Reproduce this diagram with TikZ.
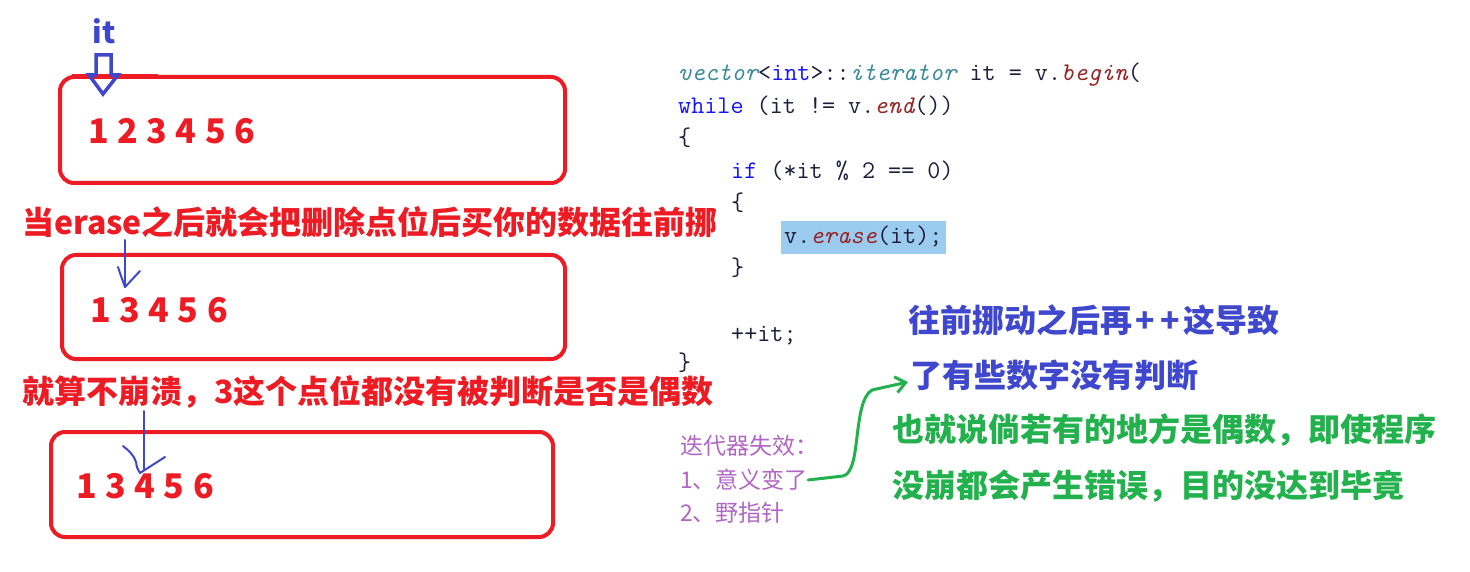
\documentclass[tikz,border=0pt]{standalone}
\usepackage{fontspec}
\newfontfamily\cjk{Noto Sans CJK SC}
\usetikzlibrary{arrows.meta,calc}
\definecolor{pred}{RGB}{237,28,36}
\definecolor{pblue}{RGB}{63,72,204}
\definecolor{pgreen}{RGB}{34,177,76}
\definecolor{ppurple}{RGB}{178,102,196}
\definecolor{cteal}{RGB}{60,140,155}
\definecolor{cred}{RGB}{150,40,40}
\definecolor{ckw}{RGB}{20,20,255}
\definecolor{ctxt}{RGB}{30,30,60}
\definecolor{hl}{RGB}{156,203,240}
\newcommand\dsp{\hspace{8.5pt}}
\begin{document}
\begin{tikzpicture}[x=1pt,y=-1pt,
  box/.style={draw=pred,line width=4pt,rounded corners=14pt},
  big/.style={font=\cjk\bfseries\fontsize{32}{38}\selectfont,inner sep=0pt,anchor=west},
  digits/.style={font=\cjk\bfseries\fontsize{34}{40}\selectfont,text=pred,inner sep=0pt,anchor=west},
  code/.style={font=\ttfamily\fontsize{25.4}{30}\selectfont,text=ctxt,inner sep=0pt,anchor=base west},
  note/.style={font=\cjk\fontsize{23}{28}\selectfont,text=ppurple,inner sep=0pt,anchor=west},
  pen/.style={draw=pblue,line width=2pt,line cap=round,line join=round},
]
\useasboundingbox (0,0) rectangle (1470,572);
\fill[white] (0,0) rectangle (1470,572);

% boxes
\draw[box] (60,77) rectangle (565,183);
\draw[pred,line width=4.5pt] (72,76) -- (158,76);
\draw[box] (62,255) rectangle (565,359);
\draw[box] (51,432) rectangle (553,537);

% digits
\node[digits] (d1) at (88,131) {1\dsp2\dsp3\dsp4\dsp5\dsp6};
\node[digits] (d2) at (90,310) {1\dsp3\dsp4\dsp5\dsp6};
\node[digits] (d3) at (76,486) {1\dsp3\dsp4\dsp5\dsp6};

% it label and hollow arrow
\node[font=\cjk\bfseries\fontsize{30}{36}\selectfont,text=pblue,inner sep=0pt] (it) at (104,31) {it};
\draw[pblue,line width=3.5pt,line join=miter]
  (96,55) -- (111,55) -- (111,75) -- (118,75) -- (103,94) -- (89,75) -- (96,75) -- cycle;

% red texts
\node[big,text=pred] (r1) at (22,222) {当erase之后就会把删除点位后买你的数据往前挪};
\node[big,text=pred] (r2) at (22,392) {就算不崩溃，3这个点位都没有被判断是否是偶数};

% hand drawn blue arrows
\coordinate (bA) at (125,240);
\coordinate (bB) at (125,287);
\draw[pen] (bA) -- (bB);
\draw[pen] (118,267) .. controls (121,276) .. (bB) -- (140,271);
\coordinate (cA) at (144,411);
\coordinate (cB) at (144,469);
\draw[pen] (cA) -- (cB);
\draw[pen] (123,446) .. controls (128,450) and (134,455) .. (136,462) .. controls (137,468) .. (140,473) -- (165,457);

% code
\fill[hl] (781,221) rectangle (946,254);
\node[code] (c0) at (678,81) {\textcolor{cteal}{\itshape vector}<\textcolor{ckw}{int}>::\textcolor{cteal}{\itshape iterator} it = v.\textcolor{cred}{\itshape begin}(};
\node[code] (c1) at (678,113.5) {\textcolor{ckw}{while} (it != v.\textcolor{cred}{\itshape end}())};
\node[code] (c2) at (678,146) {\{};
\node[code] (c3) at (731,178.5) {\textcolor{ckw}{if} (*it \% 2 == 0)};
\node[code] (c4) at (731,211) {\{};
\node[code] (c5) at (784,243.5) {v.\textcolor{cred}{\itshape erase}(it);};
\node[code] (c6) at (731,276) {\}};
\node[code] (c8) at (731,341) {++it;};
\node[code] (c9) at (678,370) {\}};

% purple notes
\node[note] (n1) at (680,446) {迭代器失效：};
\node[note] (n2) at (680,480) {1、意义变了};
\node[note] (n3) at (680,513) {2、野指针};

% blue and green texts
\node[big,text=pblue] (b1) at (908,320) {往前挪动之后再\hspace{3pt}+\hspace{6pt}+\hspace{3pt}这导致};
\node[big,text=pblue] (b2) at (910,375) {了有些数字没有判断};
\node[big,text=pgreen] (g1) at (892,430) {也就说倘若有的地方是偶数，即使程序};
\node[big,text=pgreen] (g2) at (892,486) {没崩都会产生错误，目的没达到毕竟};

% green arrow
\draw[pgreen,line width=3pt,line cap=round,line join=round,-{Straight Barb[length=10pt,width=16pt]}]
  (n2.east) -- (843,476) .. controls (862,472) and (852,402) .. (872,390) -- ($(b2.west)+(-2,7)$);
\end{tikzpicture}
\end{document}
